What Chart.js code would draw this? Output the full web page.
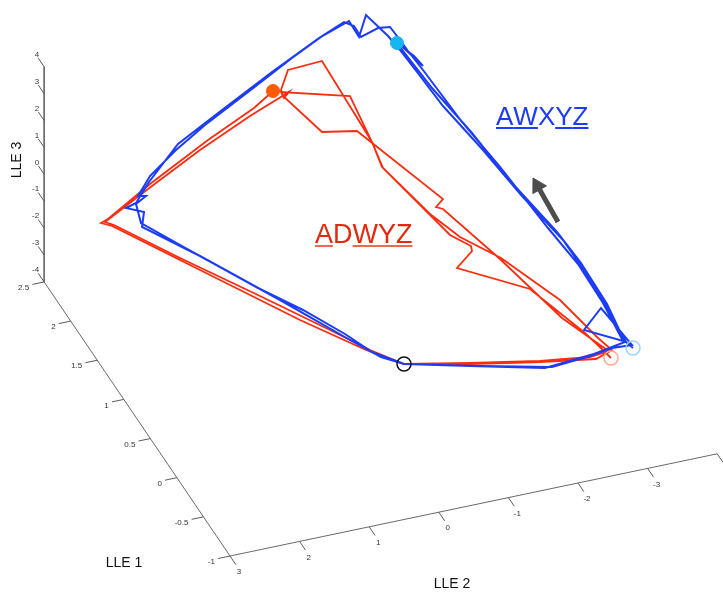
<!DOCTYPE html>
<html>
<head>
<meta charset="utf-8">
<script src="https://cdn.jsdelivr.net/npm/chart.js@4.4.0/dist/chart.umd.min.js"></script>
<style>
  html, body { margin: 0; padding: 0; background: #fff; }
</style>
</head>
<body>
<canvas id="lleChart" width="723" height="597"></canvas>
<script>
/*
 * Tick values of the three LLE axes
 */
const lle1Ticks = [2.5, 2, 1.5, 1, 0.5, 0, -0.5, -1];
const lle2Ticks = [3, 2, 1, 0, -1, -2, -3, -4];
const lle3Ticks = [4, 3, 2, 1, 0, -1, -2, -3, -4];

// Trajectories in the view plane of the 3-D plot
const blueTrail = [
    [633,348],[626,342],[606,306],[588,276],[563,240],[522,196],[483,150],[443,106],[417,72],[400,50],
    [388,36],[366,15],[359,37],[349,21],[321,37],[292,58],[252,89],[205,125],[176,150],[150,176],
    [138,196],[146,196],[136,204],[141,223],[182,246],[258,288],[303,310],[345,334],[372,352],[404,364],
    [480,366],[552,367],[590,356],[612,348],[632,345],
    [601,308],[584,330],[623,341],[603,303],[578,264],[548,228],[500,167],[462,122],[423,70],[408,51],
    [400,40],[390,27],[378,28],[361,37],[354,26],[344,22],[319,38],[272,72],[222,110],[178,144],
    [149,182],[136,203],[126,208],[144,212],[142,227],[200,256],[280,300],[350,340],[381,357],[404,364],
    [470,366],[545,368],[594,354],[625,342],
    [607,304],[581,263],[557,232],[512,183],[472,133],[432,88],[407,56],[393,38],[423,66],[414,56],[397,43]
];
const redTrail = [
    [611,358],[603,350],[585,333],[530,289],[457,268],[472,251],[471,246],[450,235],[383,168],[372,142],
    [322,61],[288,70],[281,90],[284,98],[289,92],[250,116],[200,150],[152,186],[105,222],[114,225],
    [180,258],[260,296],[330,330],[370,350],[404,364],[470,363],[540,361],[590,357],[609,351],
    [600,345],[562,318],[500,259],[443,209],[436,207],[443,199],[357,131],[322,132],[283,96],[281,92],
    [350,96],[372,142],[382,167],[430,214],[460,237],[501,258],[560,300],[598,338],[612,350],[596,359],
    [540,362],[470,364],[404,364],[366,350],[300,320],[200,270],[112,226],[101,223],[108,219],[150,184],
    [208,140],[254,108],[273,91]
];

// Start / end markers
const commonStart = [404, 364];
const blueStart = [633, 348];
const blueEnd = [397, 43];
const redStart = [611, 358];
const redEnd = [273, 91];

// Direction arrow (tail, tip)
const arrowTail = [558, 222];
const arrowTip = [533, 178];

const pathNames = ['AWXYZ', 'ADWYZ'];
const pathUnderlined = [[0, 1, 3, 4], [0, 2, 3, 4]];

/*
 * Projection of LLE coordinates into the view plane
 */
function proj(l1, l2, l3) {
    return {
        x: 230 - 53.1 * (l1 + 1) - 69.6 * (l2 - 3),
        y: 556 - 78.3 * (l1 + 1) + 14.6 * (l2 - 3) - 26.9 * (l3 + 4)
    };
}

function toPoints(arr) {
    return arr.map(p => ({x: p[0], y: p[1]}));
}

// Axis lines
const axisLines = [
    proj(2.5, 3, 4), proj(2.5, 3, -4), proj(-1, 3, -4), proj(-1, -4, -4)
];

// Tick marks, one segment per tick, gaps with NaN
let tickSegs = [];
lle3Ticks.forEach(v => {
    tickSegs.push(proj(2.5, 3, v), proj(2.61, 3, v), {x: NaN, y: NaN});
});
lle1Ticks.forEach(v => {
    tickSegs.push(proj(v, 3, -4), proj(v, 3.17, -4), {x: NaN, y: NaN});
});
lle2Ticks.forEach(v => {
    tickSegs.push(proj(-1, v, -4), proj(-1.11, v, -4), {x: NaN, y: NaN});
});

// arrow head sits just behind the tip
const aDx = arrowTip[0] - arrowTail[0];
const aDy = arrowTip[1] - arrowTail[1];
const aLen = Math.sqrt(aDx * aDx + aDy * aDy);
const headR = 9;
const headCentre = {x: arrowTip[0] - aDx / aLen * headR, y: arrowTip[1] - aDy / aLen * headR};
const headRot = Math.atan2(aDx, -aDy) * 180 / Math.PI;

const whiteBg = {
    id: 'whiteBg',
    beforeDraw: (chart) => {
        const {ctx} = chart;
        ctx.save();
        ctx.fillStyle = '#ffffff';
        ctx.fillRect(0, 0, chart.width, chart.height);
        ctx.restore();
    }
};

function drawUnderlined(ctx, text, under, x, y, color, lineColor) {
    let cx = x;
    for (let i = 0; i < text.length; i++) {
        const w = ctx.measureText(text[i]).width;
        ctx.fillStyle = color;
        ctx.fillText(text[i], cx, y);
        if (under.includes(i)) {
            ctx.fillStyle = lineColor;
            ctx.fillRect(cx, y + 2, w, 2);
        }
        cx += w;
    }
}

// tick labels, axis titles and path names
const textLayer = {
    id: 'textLayer',
    afterDatasetsDraw: (chart) => {
        const {ctx} = chart;
        const sx = chart.scales.x, sy = chart.scales.y;
        const px = p => ({x: sx.getPixelForValue(p.x), y: sy.getPixelForValue(p.y)});
        ctx.save();
        ctx.fillStyle = '#333';
        ctx.font = '8px "Liberation Sans", Arial, sans-serif';
        ctx.textBaseline = 'middle';

        ctx.textAlign = 'right';
        lle3Ticks.forEach(v => {
            const p = px(proj(2.5, 3, v));
            ctx.fillText(String(v), p.x - 5, p.y - 12);
        });
        lle1Ticks.forEach(v => {
            const p = px(proj(v, 3, -4));
            ctx.fillText(String(v), p.x - 15, p.y + 6);
        });
        ctx.textAlign = 'center';
        lle2Ticks.forEach(v => {
            const p = px(proj(-1, v, -4));
            ctx.fillText(String(v), p.x + 9, p.y + 16);
        });

        // axis titles
        ctx.fillStyle = '#111';
        ctx.font = '14px "Liberation Sans", Arial, sans-serif';
        const t1 = px({x: 124, y: 563});
        ctx.fillText('LLE 1', t1.x, t1.y);
        const t2 = px({x: 452, y: 584});
        ctx.fillText('LLE 2', t2.x, t2.y);
        const t3 = px({x: 17, y: 160});
        ctx.save();
        ctx.translate(t3.x, t3.y);
        ctx.rotate(-Math.PI / 2);
        ctx.fillText('LLE 3', 0, 0);
        ctx.restore();

        // path names
        ctx.textAlign = 'left';
        ctx.textBaseline = 'alphabetic';
        ctx.font = '26px "Liberation Sans", Arial, sans-serif';
        const b = px({x: 496, y: 125});
        drawUnderlined(ctx, pathNames[0], pathUnderlined[0], b.x, b.y, '#1c3cf5', '#1c3cf5');
        ctx.font = '27px "Liberation Sans", Arial, sans-serif';
        const r = px({x: 315, y: 243});
        drawUnderlined(ctx, pathNames[1], pathUnderlined[1], r.x, r.y, '#e22a10', '#ec6a50');
        ctx.restore();
    }
};

const ctx = document.getElementById('lleChart');

new Chart(ctx, {
    type: 'scatter',
    data: {
        datasets: [
            // markers first so they are drawn on top
            {data: toPoints([commonStart]), pointRadius: 7, pointBackgroundColor: 'rgba(0,0,0,0)',
             pointBorderColor: '#111', pointBorderWidth: 1.5},
            {data: toPoints([blueEnd]), pointRadius: 6.5, pointBackgroundColor: '#16b6f0',
             pointBorderColor: '#16b6f0', pointBorderWidth: 1},
            {data: toPoints([redEnd]), pointRadius: 6.5, pointBackgroundColor: '#ff5a08',
             pointBorderColor: '#ff5a08', pointBorderWidth: 1},
            {data: toPoints([blueStart]), pointRadius: 7, pointBackgroundColor: 'rgba(0,0,0,0)',
             pointBorderColor: '#9ad8ff', pointBorderWidth: 1.5},
            {data: toPoints([redStart]), pointRadius: 7, pointBackgroundColor: 'rgba(0,0,0,0)',
             pointBorderColor: '#ffab90', pointBorderWidth: 1.5},
            // arrow
            {data: [headCentre], pointStyle: 'triangle', rotation: headRot, pointRadius: headR,
             pointBackgroundColor: '#4d4d4d', pointBorderColor: '#4d4d4d', pointBorderWidth: 1},
            {data: [{x: arrowTail[0], y: arrowTail[1]}, headCentre], showLine: true, pointRadius: 0,
             borderColor: '#4d4d4d', borderWidth: 5},
            // trajectories
            {label: 'AWXYZ', data: toPoints(blueTrail), showLine: true, pointRadius: 0,
             borderColor: '#1c3cf5', borderWidth: 2},
            {label: 'ADWYZ', data: toPoints(redTrail), showLine: true, pointRadius: 0,
             borderColor: '#fa2d0f', borderWidth: 1.8},
            // box axes
            {data: tickSegs, showLine: true, spanGaps: false, pointRadius: 0,
             borderColor: '#5a5a5a', borderWidth: 1},
            {data: axisLines, showLine: true, pointRadius: 0, borderColor: '#6a6a6a', borderWidth: 1}
        ]
    },
    options: {
        responsive: false,
        animation: false,
        events: [],
        layout: {padding: 0, autoPadding: false},
        elements: {line: {tension: 0}},
        plugins: {
            legend: {display: false},
            tooltip: {enabled: false}
        },
        scales: {
            x: {type: 'linear', min: 0, max: 723, display: false},
            y: {type: 'linear', min: 0, max: 597, reverse: true, display: false}
        }
    },
    plugins: [whiteBg, textLayer]
});
</script>
</body>
</html>
